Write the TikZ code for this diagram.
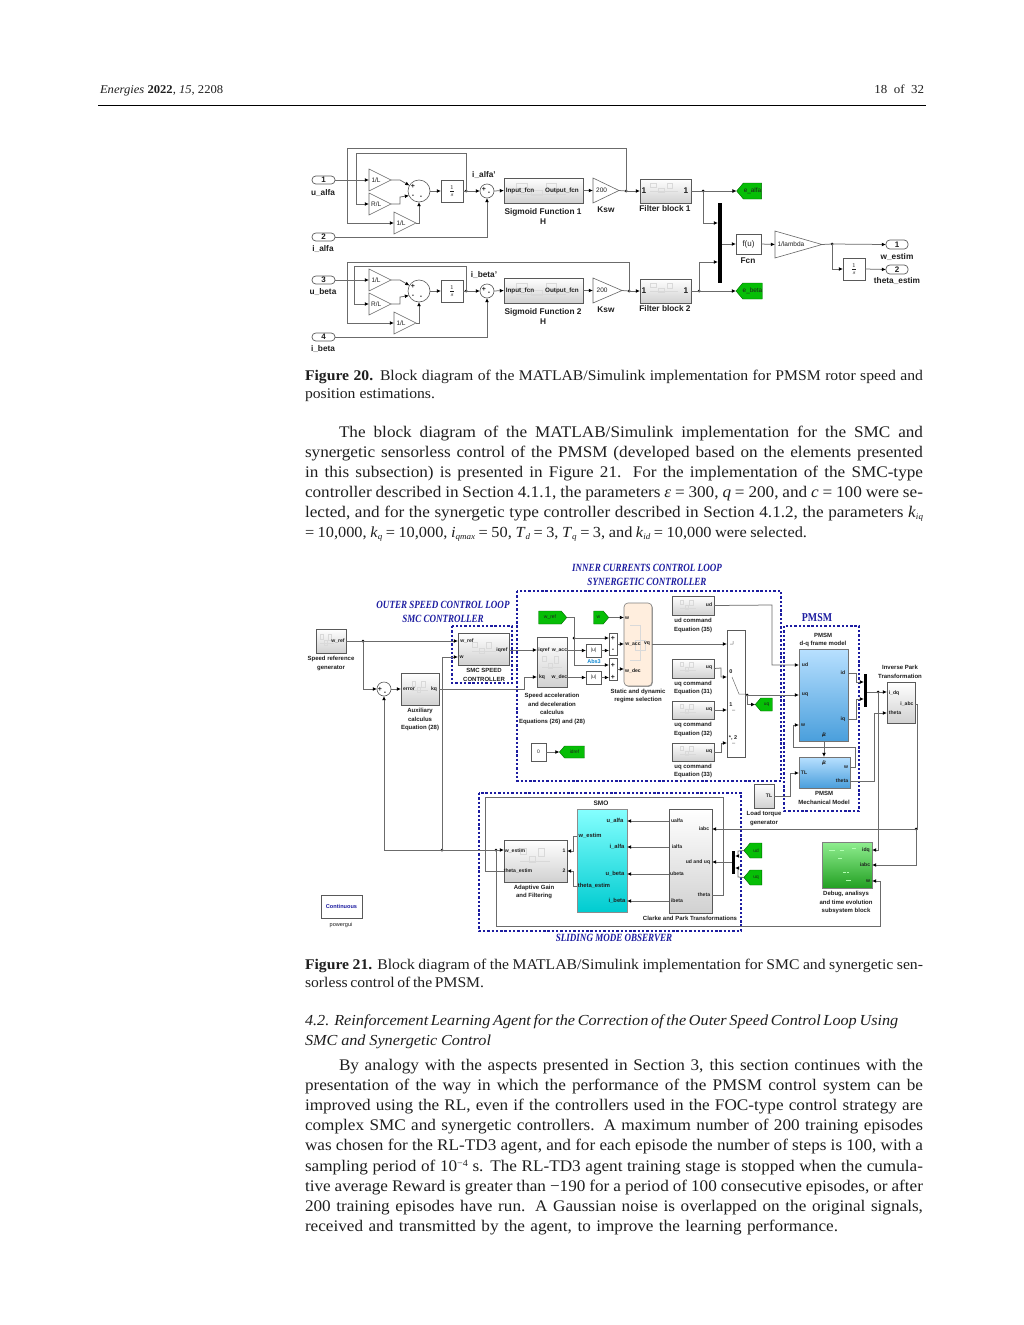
\documentclass[tikz,border=0pt]{standalone}
\usepackage{fontspec}
\usetikzlibrary{arrows.meta,shapes.geometric,shapes.symbols,shadows,calc}
\setmainfont{Liberation Serif}[FakeStretch=1.06]
\setsansfont{Liberation Sans}
\newfontfamily\ttlfont{Liberation Serif}[FakeStretch=0.82]
\definecolor{bltop}{HTML}{B8E0FF}
\definecolor{blbot}{HTML}{4A9FDC}
\definecolor{cytop}{HTML}{85FFFF}
\definecolor{cybot}{HTML}{00CCD0}
\definecolor{grtop}{HTML}{90EE90}
\definecolor{grbot}{HTML}{22A022}
\definecolor{tagg}{HTML}{06BE06}
\definecolor{dashb}{HTML}{1C1CA0}
\newcounter{lbc}
\newcommand{\lb}[4]{\stepcounter{lbc}\node[#1] (lb\thelbc) at (#2,#3) {#4};}
\newcommand{\bx}[7]{\node[#2,minimum width={(#5)-(#3)},minimum height={(#6)-(#4)}] (#1) at ({((#3)+(#5))/2},{((#4)+(#6))/2}) {#7};}
\newcommand{\gn}[6]{\node[gainb,minimum width={(#5)-(#3)},minimum height={(#4)-(#2)},anchor=lower side] (#1) at (#2,{((#3)+(#5))/2}) {#6};}
\newcommand{\tl}[4]{\stepcounter{lbc}\node[anchor=base west,inner sep=0pt,font=\fontsize{16.2}{20}\selectfont] (lb\thelbc) at (#1,#2) {\makebox[#3pt][s]{#4}};}
\newcommand{\hl}[4]{\stepcounter{lbc}\node[anchor=base west,inner sep=0pt,font=\fontsize{15.3}{20}\selectfont\itshape] (lb\thelbc) at (#1,#2) {\makebox[#3pt][s]{#4}};}
\newcommand{\cl}[4]{\stepcounter{lbc}\node[anchor=base west,inner sep=0pt,font=\fontsize{14.8}{18}\selectfont] (lb\thelbc) at (#1,#2) {\makebox[#3pt][s]{#4}};}
\newcommand{\sbs}[1]{\raisebox{-2pt}{\fontsize{8.5}{10}\selectfont\textit{#1}}}
% faint thumbnail inside a subsystem block
\newcommand{\scr}[4]{\draw[black!15,line width=.4pt] (#1,#2) rectangle ++(#3*.22,#4*.4) (#1+#3*.3,#2+#4*.5) rectangle ++(#3*.22,#4*.4) (#1+#3*.6,#2) rectangle ++(#3*.2,#4*.5) (#1,#2+#4*.8) -- ++(#3,0);}
\tikzset{
  every node/.style={inner sep=0pt,outer sep=0pt,text=black!88},
  wr/.style={draw=black!58,line width=.75pt,-{Latex[black,length=4.2pt,width=3.8pt]}},
  ln/.style={draw=black!58,line width=.75pt},
  dotj/.style={circle,fill=black,minimum size=3pt},
  plain/.style={draw=black!65,line width=.6pt,fill=white,drop shadow={shadow xshift=.8pt,shadow yshift=-.8pt,fill=black!45,opacity=1}},
  sub/.style={draw=black!65,line width=.6pt,top color=white,bottom color=black!18,drop shadow={shadow xshift=.8pt,shadow yshift=-.8pt,fill=black!45,opacity=1}},
  iop/.style={draw=black!65,line width=.7pt,rounded corners=3.8pt,fill=white,font=\sffamily\bfseries\fontsize{8}{8}\selectfont},
  gainb/.style={draw=black!60,line width=.6pt,fill=white,isosceles triangle,isosceles triangle stretches,shape border rotate=0,font=\sffamily\fontsize{6.5}{7}\selectfont},
  sumb/.style={circle,draw=black!65,line width=.6pt,fill=white},
  bar/.style={fill=black},
  tagw/.style={signal,signal to=west,signal pointer angle=100,fill=tagg,draw=green!40!black,line width=.4pt,xshift=3pt,font=\sffamily\fontsize{6.4}{6}\selectfont},
  tage/.style={signal,signal to=east,signal pointer angle=100,fill=tagg,draw=green!40!black,line width=.4pt,xshift=-3pt,font=\sffamily\fontsize{5}{5}\selectfont},
  big/.style={font=\sffamily\bfseries\fontsize{8.3}{10}\selectfont,align=center},
  sml/.style={font=\sffamily\bfseries\fontsize{6}{8.5}\selectfont,align=center},
  prt/.style={font=\sffamily\bfseries\fontsize{5.1}{5}\selectfont},
  prtb/.style={font=\sffamily\bfseries\fontsize{5.8}{6}\selectfont},
  sgn/.style={font=\sffamily\bfseries\fontsize{7}{7}\selectfont},
  dbox/.style={draw=dashb,line width=1.5pt,dash pattern=on 2.4pt off 1.9pt},
  ttl/.style={font=\ttlfont\bfseries\itshape\fontsize{11}{13.5}\selectfont,text=dashb,align=center},
  ttlup/.style={font=\ttlfont\bfseries\fontsize{12}{13.5}\selectfont,text=dashb,align=center},
  bluebk/.style={draw=black!55,line width=.6pt,top color=bltop,bottom color=blbot,drop shadow={shadow xshift=.8pt,shadow yshift=-.8pt,fill=black!45,opacity=1}},
}
% one observer branch
\newcommand{\obsrow}[9]{%
\begin{scope}[shift={(0,#2)}]
\gn{ga#1}{369}{169}{391}{191}{1/L}
\gn{gb#1}{369}{193}{391}{215}{R/L}
\gn{gc#1}{394}{212}{416}{234}{1/L}
\node[sumb,minimum size=22pt] (sa#1) at (419,191) {};
\lb{sgn}{413}{186}{+} \lb{sgn}{413}{196}{-} \lb{sgn}{421}{197}{-}
\bx{it#1}{plain}{441}{180}{463}{202}{\fontsize{8}{8}\selectfont$\frac{1}{s}$}
\node[dotj] (da#1) at (466,191) {};
\node[sumb,minimum size=14pt] (sb#1) at (487,191) {};
\lb{sgn}{484}{189}{+} \lb{sgn}{489}{193}{-}
\bx{sg#1}{sub}{504}{178}{583}{203}{}
\scr{516}{183}{50}{14}
\lb{font=\sffamily\bfseries\fontsize{6.3}{7}\selectfont}{520}{191}{Input\_fcn}
\lb{font=\sffamily\bfseries\fontsize{6.3}{7}\selectfont}{562}{191}{Output\_fcn}
\lb{big}{543}{216}{Sigmoid Function #9\\H}
\gn{ks#1}{593}{178}{#4}{203}{200}
\lb{big}{606}{210}{Ksw}
\node[dotj] (db#1) at (#5,191) {};
\lb{big}{484}{175}{#8}
\draw[wr] (ga#1.east) -- ++(9,0) -- (sa#1.150);
\draw[wr] (gb#1.east) -- ++(9,0) -- ++(0,-7) -- (sa#1.205);
\draw[wr] (gc#1.east) -| (sa#1.south);
\draw[wr] (sa#1.east) -- (it#1.west);
\draw[wr] (it#1.east) -- (sb#1.west);
\draw[wr] (da#1.center) |- (#3,#7) |- (gb#1.west);
\draw[wr] (db#1.center) |- (347,#6) |- (gc#1.west);
\draw[wr] (sb#1.east) -- (sg#1.west);
\draw[wr] (sg#1.east) -- (ks#1.west);
\draw[ln] (ks#1.east) -- (db#1.center);
\end{scope}}
\begin{document}
\begin{tikzpicture}[x=1pt,y=-1pt]
\useasboundingbox (0,0) rectangle (1024,1325);
\fill[white] (0,0) rectangle (1024,1325);
% ---------- page head
\lb{anchor=base west,font=\fontsize{11.9}{15}\selectfont}{100}{93}{\textit{Energies} \textbf{2022}, \textit{15}, 2208}
\lb{anchor=base east,font=\fontsize{12.2}{15}\selectfont}{924}{93}{18\ \ of\ \ 32}
\draw[black,line width=.8pt] (98,105) -- (926,105);
% ---------- Figure 20
\bx{inua}{iop}{312}{176}{335}{184}{1}
\bx{inia}{iop}{312}{233}{335}{241}{2}
\bx{inub}{iop}{312}{276}{335}{284}{3}
\bx{inib}{iop}{312}{333}{335}{341}{4}
\lb{big}{323}{193}{u\_alfa}
\lb{big}{323}{249}{i\_alfa}
\lb{big}{323}{292}{u\_beta}
\lb{big}{323}{349}{i\_beta}
\obsrow{a}{0}{356}{619}{626}{148}{153}{i\_alfa'}{1}
\obsrow{b}{100}{354}{622}{629}{162}{166}{i\_beta'}{2}
\draw[wr] (inua.east) -- (gaa.west);
\draw[wr] (inub.east) -- (gab.west);
\draw[wr] (inia.east) -| (sba.south);
\draw[wr] (inib.east) -| (sbb.south);
\bx{fa}{sub}{640}{179}{691}{203}{}
\bx{fb}{sub}{640}{279}{691}{303}{}
\scr{650}{183}{28}{10}
\scr{650}{283}{28}{10}
\lb{big}{644}{191}{1} \lb{big}{686}{191}{1}
\lb{big}{644}{291}{1} \lb{big}{686}{291}{1}
\lb{big}{665}{209}{Filter block 1}
\lb{big}{665}{309}{Filter block 2}
\draw[wr] (dba.center) -- (fa.west);
\draw[wr] (dbb.center) -- (fb.west);
\bx{mxa}{bar}{718}{203}{722}{283}{}
\node[dotj] (dfa) at (703,191) {};
\node[dotj] (dfb) at (699,291) {};
\bx{ea}{tagw}{737}{183}{762}{199}{e\_alfa}
\bx{eb}{tagw}{737}{283}{762}{299}{e\_beta}
\draw[wr] (fa.east) -- (ea.west);
\draw[wr] (fb.east) -- (eb.west);
\draw[wr] (dfa.center) |- (mxa.west |- 0,223);
\draw[wr] (dfb.center) |- (mxa.west |- 0,262);
\bx{fcn}{plain}{736}{234}{761}{254}{\sffamily\fontsize{8}{8}\selectfont f(u)}
\lb{big}{748}{261}{Fcn}
\gn{lam}{775}{232}{822}{257}{1/lambda}
\node[dotj] (dw) at (832,244) {};
\bx{oi}{plain}{843}{258}{865}{280}{\fontsize{8}{8}\selectfont$\frac{1}{s}$}
\bx{o1}{iop}{886}{240}{908}{249}{1}
\bx{o2}{iop}{886}{265}{908}{274}{2}
\lb{big}{897}{257}{w\_estim}
\lb{big}{897}{281}{theta\_estim}
\draw[wr] (mxa.east |- fcn.west) -- (fcn.west);
\draw[wr] (fcn.east) -- (lam.west);
\draw[ln] (lam.east) -- (dw.center);
\draw[wr] (dw.center) -- (o1.west);
\draw[wr] (dw.center) |- (oi.west);
\draw[wr] (oi.east) -- (o2.west);
% ---------- captions and text
\cl{305}{380}{618}{\textbf{Figure 20.} Block diagram of the MATLAB/Simulink implementation for PMSM rotor speed and}
\cl{305}{398}{130}{position estimations.}
\tl{339}{437}{584}{The block diagram of the MATLAB/Simulink implementation for the SMC and}
\tl{305}{457}{618}{synergetic sensorless control of the PMSM (developed based on the elements presented}
\tl{305}{477}{618}{in this subsection) is presented in Figure 21. For the implementation of the SMC-type}
\tl{305}{497}{618}{controller described in Section 4.1.1, the parameters \textit{ε} = 300, \textit{q} = 200, and \textit{c} = 100 were se-}
\tl{305}{517}{618}{lected, and for the synergetic type controller described in Section 4.1.2, the parameters \textit{k}\sbs{iq}}
\tl{305}{537}{502}{\fontsize{15.4}{20}\selectfont = 10,000, \textit{k}\sbs{q} = 10,000, \textit{i}\sbs{qmax} = 50, \textit{T}\sbs{d} = 3, \textit{T}\sbs{q} = 3, and \textit{k}\sbs{id} = 10,000 were selected.}
\cl{305}{969}{618}{\textbf{Figure 21.} Block diagram of the MATLAB/Simulink implementation for SMC and synergetic sen-}
\cl{305}{987}{179}{sorless control of the PMSM.}
\hl{305}{1025}{593}{4.2. Reinforcement Learning Agent for the Correction of the Outer Speed Control Loop Using}
\hl{305}{1045}{186}{SMC and Synergetic Control}
\tl{339}{1070}{584}{By analogy with the aspects presented in Section 3, this section continues with the}
\tl{305}{1090}{618}{presentation of the way in which the performance of the PMSM control system can be}
\tl{305}{1110}{618}{improved using the RL, even if the controllers used in the FOC-type control strategy are}
\tl{305}{1130}{618}{complex SMC and synergetic controllers. A maximum number of 200 training episodes}
\tl{305}{1150}{618}{was chosen for the RL-TD3 agent, and for each episode the number of steps is 100, with a}
\tl{305}{1171}{618}{sampling period of 10\raisebox{5pt}{\fontsize{9.5}{10}\selectfont −4} s. The RL-TD3 agent training stage is stopped when the cumula-}
\tl{305}{1191}{618}{tive average Reward is greater than −190 for a period of 100 consecutive episodes, or after}
\tl{305}{1211}{618}{200 training episodes have run. A Gaussian noise is overlapped on the original signals,}
\tl{305}{1231}{533}{received and transmitted by the agent, to improve the learning performance.}
% ---------- Figure 21: frames and titles
\draw[dbox] (517,591) rectangle (781,781);
\draw[dbox] (452,626) rectangle (512,683);
\draw[dbox] (784,626) rectangle (859,811);
\draw[dbox] (479,793) rectangle (741,931);
\lb{ttl}{647}{575}{INNER CURRENTS CONTROL LOOP\\SYNERGETIC CONTROLLER}
\lb{ttl}{443}{612}{OUTER SPEED CONTROL LOOP\\SMC CONTROLLER}
\lb{ttlup}{817}{618}{PMSM}
\lb{ttl}{614}{938}{SLIDING MODE OBSERVER}
% ---------- blocks, speed loop
\bx{ref}{sub}{316}{629}{346}{653}{}
\scr{320}{634}{14}{12}
\lb{prt}{338}{641}{w\_ref}
\lb{sml}{331}{663.5}{Speed reference\\generator}
\node[dotj] (dref) at (363,641) {};
\node[sumb,minimum size=14pt] (se) at (384,689) {};
\lb{sgn}{380}{689}{+} \lb{sgn}{385}{693}{-}
\bx{aux}{sub}{401}{673}{439}{705}{}
\scr{412}{681}{16}{12}
\lb{prt}{409}{689}{error}
\lb{prt}{434}{689}{kq}
\lb{sml}{420}{719.5}{Auxiliary\\calculus\\Equation (28)}
\bx{smc}{sub}{458}{633}{509}{665}{}
\scr{472}{642}{24}{12}
\lb{prt}{467}{641}{w\_ref}
\lb{prt}{461.5}{657}{w}
\lb{prt}{502}{650}{iqref}
\lb{sml}{484}{675}{SMC SPEED\\CONTROLLER}
\bx{spd}{sub}{537}{637}{567}{687}{}
\scr{542}{656}{20}{14}
\lb{prt}{544}{650}{iqref}
\lb{prt}{559.5}{650}{w\_acc}
\lb{prt}{542}{677}{kq}
\lb{prt}{559.5}{677}{w\_dec}
\lb{sml}{552}{709}{Speed acceleration\\and deceleration\\calculus\\Equations (26) and (28)}
\bx{wrf}{tage}{539}{611}{567}{624}{w\_ref}
\bx{wf}{tage}{594}{611}{609}{624}{w}
\node[dotj] (dw2) at (574,638) {};
\bx{ad1}{plain}{609}{633}{617}{655}{}
\bx{ad2}{plain}{609}{658}{617}{680}{}
\lb{sgn}{613}{638}{+} \lb{sgn}{613}{650}{-}
\lb{sgn}{613}{665}{+} \lb{sgn}{613}{677}{+}
\bx{ab1}{plain}{586}{644}{601}{657}{\fontsize{5}{5}\selectfont\sffamily |u|}
\bx{ab2}{plain}{586}{671}{601}{684}{\fontsize{5}{5}\selectfont\sffamily |u|}
\lb{font=\sffamily\bfseries\fontsize{5.5}{6}\selectfont,text=cyan!70!blue}{594}{662}{Abs3}
\bx{sta}{draw=black!50,line width=.6pt,fill=orange!13,rounded corners=4pt,drop shadow={shadow xshift=.8pt,shadow yshift=-.8pt,fill=black!40,opacity=1}}{624}{603}{652}{686}{}
\draw[black!15,line width=.4pt] (630,625) -- (640,625) -- (640,660) -- (630,660) (635,640) rectangle (645,650);
\lb{prt}{627}{618}{w}
\lb{prt}{633}{644}{w\_acc}
\lb{prt}{647}{644}{vq}
\lb{prt}{633}{671}{w\_dec}
\lb{sml}{638}{696}{Static and dynamic\\regime selection}
\bx{zero}{plain}{531}{743}{546}{761}{\fontsize{5}{5}\selectfont\sffamily 0}
\bx{idr}{tagw}{559}{746}{584}{758}{\fontsize{4.8}{5}\selectfont idref}
% controllers on the right
\bx{ud}{sub}{672}{596}{714}{615}{}
\bx{uq1}{sub}{672}{659}{714}{678}{}
\bx{uq2}{sub}{672}{701}{714}{719}{}
\bx{uq3}{sub}{672}{743}{714}{761}{}
\scr{680}{600}{16}{10} \scr{680}{662}{16}{10} \scr{680}{704}{16}{10} \scr{680}{746}{16}{10}
\lb{prt}{709}{605}{ud} \lb{prt}{709}{668}{uq} \lb{prt}{709}{710}{uq} \lb{prt}{709}{752}{uq}
\lb{sml}{693}{625.5}{ud command\\Equation (35)}
\lb{sml}{693}{688}{uq command\\Equation (31)}
\lb{sml}{693}{729.5}{uq command\\Equation (32)}
\lb{sml}{693}{771}{uq command\\Equation (33)}
\bx{sw}{plain}{727}{630}{745}{757}{}
\lb{font=\sffamily\bfseries\fontsize{5.5}{6}\selectfont}{731}{672}{0}
\lb{font=\sffamily\bfseries\fontsize{5.5}{6}\selectfont}{731}{705}{1}
\lb{font=\sffamily\bfseries\fontsize{5.5}{6}\selectfont}{733}{738}{*, 2}
\draw[ln,line width=.5pt] (733,644) -- ++(0,-3) ++(0,3) -- ++(-3,0) (732,677) -- (739,694) -- (745,694) (732,710) -- ++(3,0) (732,743) -- ++(3,0);
\node[dotj] (dsw) at (747,695) {};
\bx{uqt}{tagw}{755}{698}{772}{711}{\fontsize{4.8}{5}\selectfont uq}
% PMSM
\lb{sml}{823}{640}{PMSM\\d-q frame model}
\bx{dq}{bluebk}{799}{649}{848}{741}{}
\lb{prt}{805}{665}{ud} \lb{prt}{805}{695}{uq} \lb{prt}{803}{725}{w}
\lb{prt}{843}{673}{id} \lb{prt}{843}{719}{iq}
\lb{prt,rotate=90}{824}{735}{Te}
\bx{mech}{bluebk}{799}{757}{850}{788}{}
\lb{prt,rotate=90}{824}{763}{Te} \lb{prt}{804}{773}{TL} \lb{prt}{846}{767}{w} \lb{prt}{842}{781}{theta}
\lb{sml}{824}{798}{PMSM\\Mechanical Model}
\bx{load}{sub}{754}{784}{774}{808}{}
\lb{prt}{769}{796}{TL}
\lb{sml}{764}{818.5}{Load torque\\generator}
\bx{mxd}{bar}{864}{674}{867}{707}{}
\node[dotj] (dmx) at (878,692) {};
\bx{ipk}{sub}{887}{682}{915}{723}{}
\lb{prt}{894}{693}{i\_dq} \lb{prt}{907}{704}{i\_abc} \lb{prt}{895}{713}{theta}
\lb{sml}{900}{672}{Inverse Park\\Transformation}
% SMO
\lb{font=\sffamily\bfseries\fontsize{6.5}{7}\selectfont}{601}{803}{SMO}
\bx{ada}{sub}{504}{840}{567}{882}{}
\scr{520}{848}{30}{16}
\lb{prt}{515}{850.5}{w\_estim} \lb{prt}{518}{871}{theta\_estim}
\lb{prt}{564}{851}{1} \lb{prt}{564}{871}{2}
\lb{sml}{534}{892}{Adaptive Gain\\and Filtering}
\bx{smo}{draw=black!45,line width=.6pt,top color=cytop,bottom color=cybot,drop shadow={shadow xshift=.8pt,shadow yshift=-.8pt,fill=black!45,opacity=1}}{577}{809}{627}{912}{}
\lb{prtb}{615}{821}{u\_alfa} \lb{prtb}{617}{847}{i\_alfa} \lb{prtb}{615}{874}{u\_beta} \lb{prtb}{617}{901}{i\_beta}
\lb{prtb}{590}{836}{w\_estim} \lb{prtb}{594}{886}{theta\_estim}
\bx{clk}{sub}{669}{809}{712}{913}{}
\lb{prt}{677}{821}{ualfa} \lb{prt}{677}{847}{ialfa} \lb{prt}{677}{874}{ubeta} \lb{prt}{677}{901}{ibeta}
\lb{prt}{704}{829}{iabc} \lb{prt}{698}{862}{ud and uq} \lb{prt}{704}{895}{theta}
\lb{sml}{690}{918}{Clarke and Park Transformations}
\bx{mxc}{bar}{732}{851}{735}{874}{}
\bx{udt}{tagw}{744}{843}{762}{858}{\fontsize{4.8}{5}\selectfont ud}
\bx{uqf}{tagw}{744}{870}{762}{885}{\fontsize{4.8}{5}\selectfont uq}
% debug and powergui
\bx{dbg}{draw=black!50,line width=.6pt,top color=grtop,bottom color=grbot,drop shadow={shadow xshift=.8pt,shadow yshift=-.8pt,fill=black!45,opacity=1}}{822}{842}{872}{888}{}
\draw[white!70!green,line width=.5pt] (829,850) -- ++(6,0) (840,850) -- ++(4,0) (838,858) -- ++(4,0) (843,872) -- ++(3,0) (847,872) -- ++(2,0) (846,880) -- ++(5,0) (852,848) -- ++(4,0);
\lb{prt}{866}{850} {idq} \lb{prt}{865}{865}{iabc} \lb{prt}{868}{881}{w}
\lb{sml}{846}{902.5}{Debug, analisys\\and time evolution\\subsystem block}
\bx{pg}{plain}{321}{895}{362}{918}{\sffamily\bfseries\fontsize{5.6}{6}\selectfont\color{dashb}Continuous}
\lb{font=\sffamily\fontsize{5.6}{6}\selectfont}{341}{925}{powergui}
% junctions
\node[dotj] (dest) at (442,850) {};
\node[dotj] (dad) at (496,850) {};
\node[dotj] (dab) at (916,829) {};
% ---------- Figure 21 wires
\draw[ln] (ref.east) -- (dref.center);
\draw[wr] (dref.center) -- (smc.west |- dref);
\draw[wr] (dref.center) |- (se.west);
\draw[wr] (se.east) -- (aux.west);
\draw[wr] (dest.center) |- (smc.west |- 0,657);
\draw[wr] (aux.east) -- (524,689) |- (spd.west |- 0,677);
\draw[wr] (smc.east |- 0,650) -- (spd.west |- 0,650);
\draw[ln] (wrf.east) -- (574,617.5) -- (dw2.center);
\draw[wr] (dw2.center) -- (ad1.west |- dw2);
\draw[wr] (dw2.center) |- (ad2.west |- 0,665);
\draw[wr] (spd.east |- ab1) -- (ab1.west);
\draw[wr] (spd.east |- ab2) -- (ab2.west);
\draw[wr] (ab1.east) -- (ad1.west |- ab1);
\draw[wr] (ab2.east) -- (ad2.west |- ab2);
\draw[wr] (wf.east) -- (sta.west |- wf);
\draw[wr] (ad1.east) -- (sta.west |- ad1);
\draw[wr] (ad2.east) -- (sta.west |- ad2);
\draw[wr] (zero.east) -- (idr.west);
\draw[wr] (ud.east) -- (772,605) |- (dq.west |- 0,665);
\draw[wr] (sta.east |- 0,644) -- (sw.west |- 0,644);
\draw[wr] (uq1.east) -- (721,668) |- (sw.west |- 0,677);
\draw[wr] (uq2.east) -- (sw.west |- uq2);
\draw[wr] (uq3.east) -- (721,752) |- (sw.west |- 0,743);
\draw[ln] (sw.east |- dsw) -- (dsw.center);
\draw[wr] (dsw.center) -- (dq.west |- dsw);
\draw[wr] (dsw.center) |- (uqt.west);
\draw[wr] (dq.south -| 824,0) -- (mech.north -| 824,0);
\draw[wr] (mech.east |- 0,767) -- (855,767) |- (793,747) |- (dq.west |- 0,725);
\draw[wr] (load.east) -- (790,796) |- (mech.west |- 0,773);
\draw[wr] (dq.east |- 0,673) -- (856,673) |- (mxd.west |- 0,682);
\draw[wr] (dq.east |- 0,719) -- (856,719) |- (mxd.west |- 0,699);
\draw[ln] (mxd.east |- dmx) -- (dmx.center);
\draw[wr] (dmx.center) -- (ipk.west |- dmx);
\draw[wr] (mech.east |- 0,781) -- (874,781) |- (ipk.west |- 0,713);
\draw[wr] (dmx.center) |- (dbg.east |- 0,850);
\draw[ln] (ipk.east |- 0,704) -- (917,704) |- (dab.center);
\draw[wr] (dab.center) |- (dbg.east |- 0,865);
\draw[wr] (dab.center) -- (clk.east |- dab);
\draw[wr] (mxc.west |- 0,862) -- (clk.east |- 0,862);
\draw[wr] (udt.west) -- (738,851) |- (mxc.east |- 0,856);
\draw[wr] (uqf.west) -- (738,877) |- (mxc.east |- 0,868);
\draw[wr] (clk.west |- 0,821) -- (smo.east |- 0,821);
\draw[wr] (clk.west |- 0,847) -- (smo.east |- 0,847);
\draw[wr] (clk.west |- 0,874) -- (smo.east |- 0,874);
\draw[wr] (clk.west |- 0,901) -- (smo.east |- 0,901);
\draw[wr] (smo.west |- 0,836) -- (573,836) |- (ada.east |- 0,851);
\draw[wr] (smo.west |- 0,886) -- (573,886) |- (ada.east |- 0,871);
\draw[ln] (dad.center) -- (384,850);
\draw[wr] (384,850) -- (se.south);
\draw[wr] (dad.center) -- (ada.west |- dad);
\draw[ln] (clk.east |- 0,895) -- (723,895) |- (485,797) |- (ada.west |- 0,871);
\draw[wr] (dad.center) |- (880,926) |- (dbg.east |- 0,881);
\end{tikzpicture}
\end{document}
